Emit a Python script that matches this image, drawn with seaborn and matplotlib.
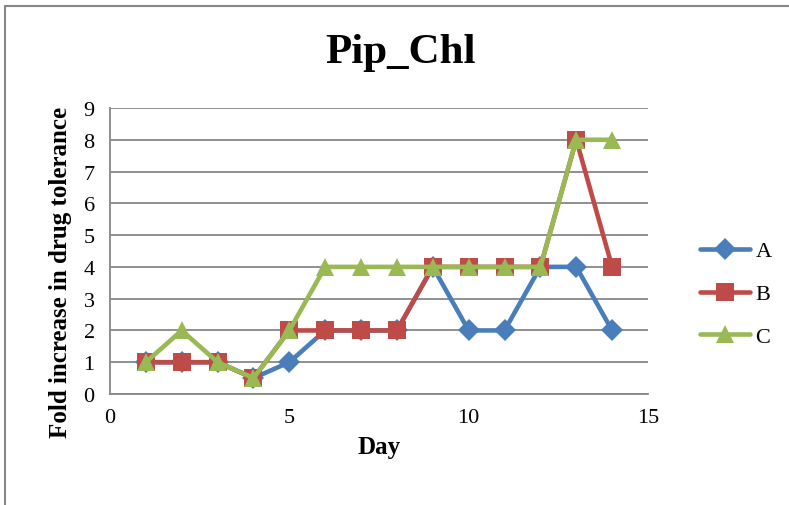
import matplotlib
matplotlib.use("Agg")
import matplotlib.pyplot as plt
import matplotlib.lines as mlines
import seaborn as sns
import pandas as pd

days = list(range(1, 15))
series_a = [1, 1, 1, 0.5, 1, 2, 2, 2, 4, 2, 2, 4, 4, 2]
series_b = [1, 1, 1, 0.5, 2, 2, 2, 2, 4, 4, 4, 4, 8, 4]
series_c = [1, 2, 1, 0.5, 2, 4, 4, 4, 4, 4, 4, 4, 8, 8]
names = ["A", "B", "C"]
colors = {"A": "#4A7EBB", "B": "#BE4B48", "C": "#98B954"}
markers = {"A": "D", "B": "s", "C": "^"}

df = pd.DataFrame({
    "Day": days * 3,
    "Value": series_a + series_b + series_c,
    "Series": ["A"] * 14 + ["B"] * 14 + ["C"] * 14,
})

sns.set_style("white")
plt.rcParams["font.family"] = ["Liberation Serif", "DejaVu Serif"]
plt.rcParams["text.color"] = "black"
plt.rcParams["axes.labelcolor"] = "black"

fig = plt.figure(figsize=(7.89, 5.06), dpi=100)
ax = fig.add_axes([110 / 789, 1 - 395 / 506, (648 - 110) / 789, (395 - 109) / 506])

msize = {"A": 11, "B": 12.5, "C": 13}
for name in names:
    sub = df[df["Series"] == name]
    sns.lineplot(data=sub, x="Day", y="Value", ax=ax, color=colors[name],
                 marker=markers[name], markersize=msize[name],
                 markeredgewidth=0, linewidth=3.3, legend=False)

ax.set_xlim(0, 15)
ax.set_ylim(0, 9)
ax.set_xticks([0, 5, 10, 15])
ax.set_yticks(range(0, 10))
ax.yaxis.grid(True, color="#878787", linewidth=1.3)
ax.set_axisbelow(True)
for side in ["top", "right"]:
    ax.spines[side].set_visible(False)
for side in ["left", "bottom"]:
    ax.spines[side].set_color("#878787")
    ax.spines[side].set_linewidth(1.3)
ax.tick_params(axis="both", direction="out", length=6, width=1.3,
               color="#878787", labelsize=16, labelcolor="black", pad=4)
ax.tick_params(axis="y", pad=5)

ax.set_xlabel("Day", fontsize=18, fontweight="bold", labelpad=6)
ax.set_ylabel("Fold increase in drug tolerance", fontsize=18,
              fontweight="bold")
ax.yaxis.set_label_coords(-0.071, 0.43)
fig.text(400 / 789, 1 - 53 / 506, "Pip_Chl", ha="center", va="center",
         fontsize=31, fontweight="bold")

handles = [mlines.Line2D([], [], color=colors[n], marker=markers[n],
                         markersize=msize[n], markeredgewidth=0, linewidth=3.3)
           for n in names]
fig.legend(handles, names, loc="center left", bbox_to_anchor=(700 / 789, 1 - 295 / 506),
           frameon=False, fontsize=16, handlelength=2.25, handletextpad=0.25,
           labelspacing=1.0, borderpad=0, borderaxespad=0)

# chart frame lines along top and left edges
fig.add_artist(mlines.Line2D([5 / 789, 1], [1 - 7 / 506, 1 - 7 / 506],
                             color="#888888", linewidth=1.5))
fig.add_artist(mlines.Line2D([5 / 789, 5 / 789], [0, 1 - 7 / 506],
                             color="#888888", linewidth=1.5))

fig.savefig("out.png", dpi=100)
